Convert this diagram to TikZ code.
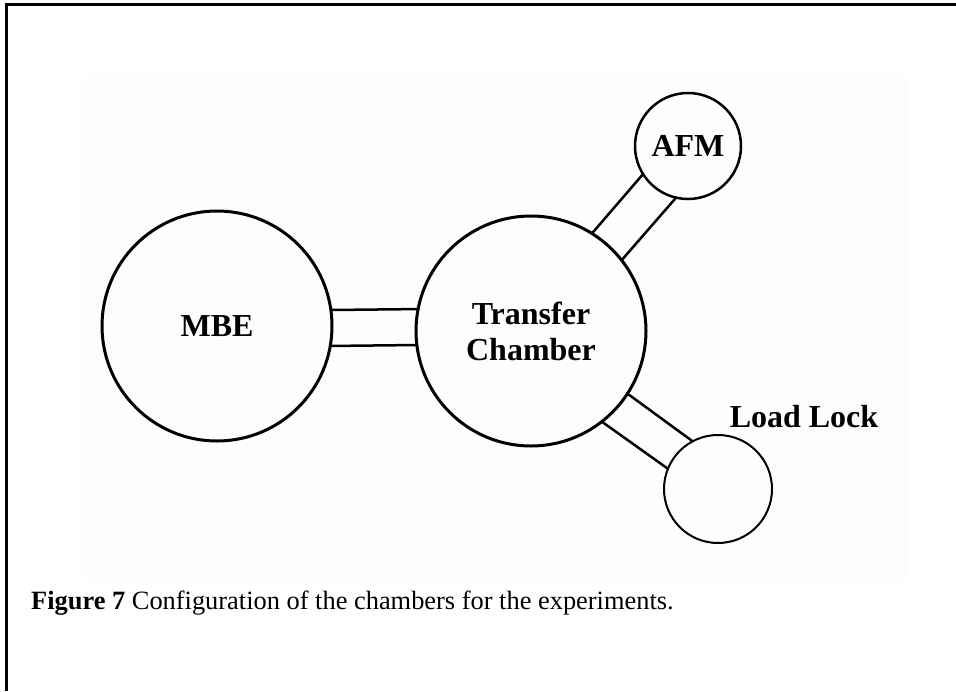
\documentclass[tikz,border=0pt]{standalone}
\usepackage{fontspec}
\setmainfont{Liberation Serif}
\begin{document}
\begin{tikzpicture}[x=1pt,y=-1pt,
  chamber/.style={circle,draw,inner sep=0pt,outer sep=0pt,font=\fontsize{32}{36}\selectfont\bfseries,align=center},
  pipe/.style={draw,line width=2.5pt,line cap=round},
  lbl/.style={inner sep=0pt,font=\fontsize{32}{36}\selectfont\bfseries}]
\useasboundingbox (0,0) rectangle (956,691);
\fill[black!0.8] (83,76) rectangle (908,581);
\draw[line width=3pt] (6,691) -- (6,4) -- (956,4);
\node[chamber,minimum size=230pt,line width=3pt] (MBE) at (217,326) {MBE};
\node[chamber,minimum size=230pt,line width=3pt] (TC) at (531,331) {Transfer\\Chamber};
\node[chamber,minimum size=106pt,line width=2.5pt] (AFM) at (688,146) {AFM};
\node[chamber,minimum size=108pt,line width=2pt] (LL) at (718,489) {};
\node[lbl] (LLT) at (804,417) {Load Lock};
\draw[pipe] (MBE.8.5) -- (TC.169);
\draw[pipe] (MBE.-10) -- (TC.187.5);
\draw[pipe] (TC.58.7) -- (AFM.212);
\draw[pipe] (TC.38) -- (AFM.257.6);
\draw[pipe] (TC.-33) -- (LL.118);
\draw[pipe] (TC.-52.3) -- (LL.158.6);
\node[anchor=base west,inner sep=0pt] (CAP) at (31,609)
  {\fontsize{26.4}{30}\selectfont\textbf{Figure 7} Configuration of the chambers for the experiments.};
\end{tikzpicture}
\end{document}
